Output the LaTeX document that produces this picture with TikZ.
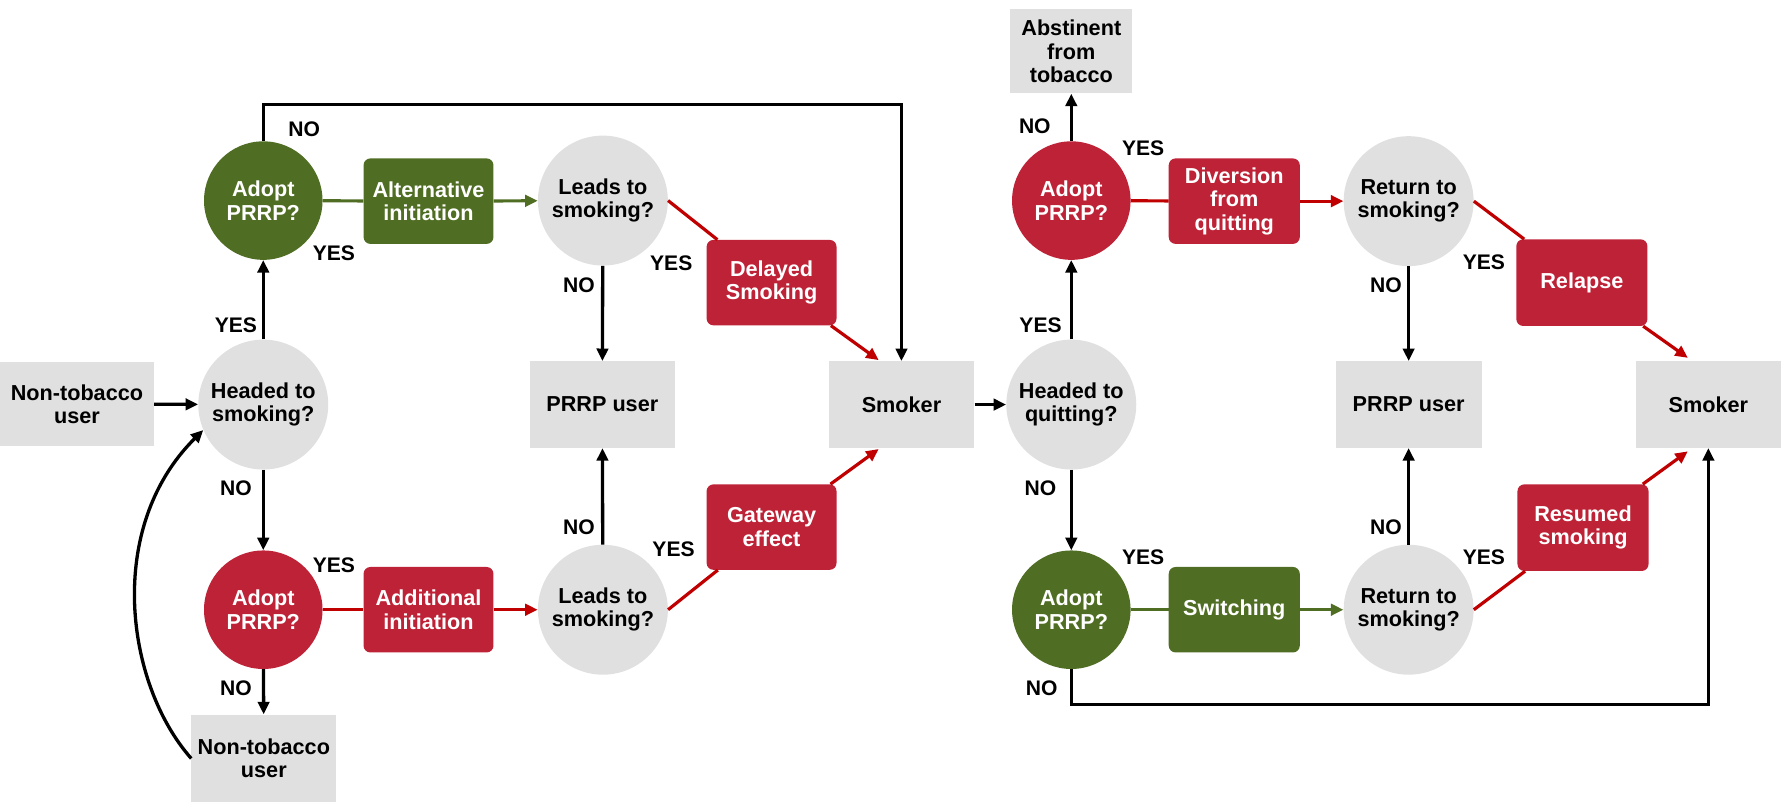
\documentclass[tikz,border=0pt]{standalone}
\usepackage{fontspec}
\setmainfont{Liberation Sans}
\usetikzlibrary{shapes.geometric,arrows.meta}
\definecolor{grn}{HTML}{4F6D23}
\definecolor{rdbox}{HTML}{BE2237}
\definecolor{rdline}{HTML}{C00000}
\definecolor{gry}{HTML}{E0E0E0}
\begin{document}
\begin{tikzpicture}[x=1pt,y=-1pt,
  every node/.style={font=\fontsize{19}{20.5}\selectfont\bfseries, align=center, inner sep=0pt},
  greybox/.style={fill=gry, minimum width=127pt, minimum height=76pt},
  greycirc/.style={circle, fill=gry, minimum size=114pt},
  gcirc/.style={circle, fill=grn, text=white, minimum size=104pt},
  rcirc/.style={circle, fill=rdbox, text=white, minimum size=104pt},
  gbox/.style={rounded corners=6pt, fill=grn, text=white, minimum width=114pt, minimum height=75pt},
  rbox/.style={rounded corners=6pt, fill=rdbox, text=white, minimum width=114pt, minimum height=75pt},
  lbl/.style={font=\fontsize{18.5}{20}\selectfont\bfseries},
  tip/.style={-{Triangle[length=11pt,width=10pt]}},
  bline/.style={draw=black, line width=2.9pt},
  gline/.style={draw=grn, line width=2.8pt},
  rline/.style={draw=rdline, line width=2.8pt},
]
\useasboundingbox (0,0) rectangle (1568,708);

% ---- left part ----
\node[greybox, minimum width=135pt, minimum height=73pt] (nt1) at (67.5,354.5) {Non-tobacco\\user};
\node[greycirc] (headS) at (231,355) {Headed to\\smoking?};
\node[gcirc] (adoptG) at (231,176) {Adopt\\PRRP?};
\node[rcirc] (adoptR) at (231,535) {Adopt\\PRRP?};
\node[greybox, minimum height=77pt] (nt2) at (231.5,665.5) {Non-tobacco\\user};
\node[gbox] (alt) at (376,176.5) {Alternative\\initiation};
\node[rbox] (add) at (376,535) {Additional\\initiation};
\node[greycirc] (leads1) at (529,176) {Leads to\\smoking?};
\node[greycirc] (leads2) at (529,535) {Leads to\\smoking?};
\node[greybox] (prrpL) at (528.5,355) {PRRP user};
\node[rbox] (delayed) at (677,248) {Delayed\\Smoking};
\node[rbox] (gateway) at (677,462.5) {Gateway\\effect};
\node[greybox, minimum width=128pt] (smokerL) at (791,355) {Smoker};

% ---- right part ----
\node[greycirc] (headQ) at (940,355) {Headed to\\quitting?};
\node[rcirc] (adoptR2) at (940,176) {Adopt\\PRRP?};
\node[gcirc] (adoptG2) at (940,535) {Adopt\\PRRP?};
\node[greybox, minimum width=107pt, minimum height=74pt] (abst) at (940,45) {Abstinent\\from\\tobacco};
\node[rbox, minimum width=115pt] (div) at (1083,176.5) {Diversion\\from\\quitting};
\node[gbox, minimum width=115pt] (switch) at (1083,535) {Switching};
\node[greycirc] (ret1) at (1236,176.5) {Return to\\smoking?};
\node[greycirc] (ret2) at (1236,535) {Return to\\smoking?};
\node[greybox, minimum width=128pt] (prrpR) at (1236,355) {PRRP user};
\node[rbox, minimum width=115pt, minimum height=76pt] (relapse) at (1388,248) {Relapse};
\node[rbox, minimum width=115pt, minimum height=76pt] (resumed) at (1389,463) {Resumed\\smoking};
\node[greybox] (smokerR) at (1499,355) {Smoker};

% ---- free ends ----
\coordinate (t1) at (791,92);
\coordinate (t2) at (1499,618);
\coordinate (sL1) at (771,316);
\coordinate (sL2) at (771,394);
\coordinate (sR1) at (1481,314);
\coordinate (sR2) at (1481,396);

% ---- black connectors ----
\draw[bline, tip] (nt1) -- (headS);
\draw[bline, tip] (headS) -- (adoptG);
\draw[bline, tip] (headS) -- (adoptR);
\draw[bline, tip] (adoptR) -- (nt2);
\draw[bline, tip] (nt2.west) .. controls (110,600) and (92,463) .. (headS.203);
\draw[bline, tip] (adoptG.north) |- (t1) -- (smokerL.north);
\draw[bline, tip] (leads1) -- (prrpL);
\draw[bline, tip] (leads2) -- (prrpL);
\draw[bline, tip] (smokerL) -- (headQ);
\draw[bline, tip] (headQ) -- (adoptR2);
\draw[bline, tip] (headQ) -- (adoptG2);
\draw[bline, tip] (adoptR2) -- (abst);
\draw[bline, tip] (ret1) -- (prrpR);
\draw[bline, tip] (ret2) -- (prrpR);
\draw[bline, tip] (adoptG2.south) |- (t2) -- (smokerR.south);

% ---- green connectors ----
\draw[gline] (adoptG) -- (alt);
\draw[gline, tip] (alt) -- (leads1);
\draw[gline] (adoptG2) -- (switch);
\draw[gline, tip] (switch) -- (ret2);

% ---- red connectors ----
\draw[rline] (adoptR) -- (add);
\draw[rline, tip] (add) -- (leads2);
\draw[rline] (adoptR2) -- (div);
\draw[rline, tip] (div) -- (ret1);
\draw[rline] (leads1.east) -- (delayed);
\draw[rline, tip] (delayed) -- (sL1);
\draw[rline] (leads2.east) -- (gateway);
\draw[rline, tip] (gateway) -- (sL2);
\draw[rline] (ret1.east) -- (relapse);
\draw[rline, tip] (relapse) -- (sR1);
\draw[rline] (ret2.east) -- (resumed);
\draw[rline, tip] (resumed) -- (sR2);

% ---- labels ----
\node[lbl] (l1) at (267,113) {NO};
\node[lbl] (l2) at (293,222) {YES};
\node[lbl] (l3) at (207,285) {YES};
\node[lbl] (l4) at (207,428) {NO};
\node[lbl] (l5) at (293,496) {YES};
\node[lbl] (l6) at (207,604) {NO};
\node[lbl] (l7) at (589,231) {YES};
\node[lbl] (l8) at (508,250) {NO};
\node[lbl] (l9) at (508,463) {NO};
\node[lbl] (l10) at (591,482) {YES};
\node[lbl] (r1) at (908,111) {NO};
\node[lbl] (r2) at (1003,130) {YES};
\node[lbl] (r3) at (913,285) {YES};
\node[lbl] (r4) at (913,428) {NO};
\node[lbl] (r5) at (1003,489) {YES};
\node[lbl] (r6) at (914,604) {NO};
\node[lbl] (r7) at (1302,230) {YES};
\node[lbl] (r8) at (1216,250) {NO};
\node[lbl] (r9) at (1216,463) {NO};
\node[lbl] (r10) at (1302,489) {YES};
\end{tikzpicture}
\end{document}
